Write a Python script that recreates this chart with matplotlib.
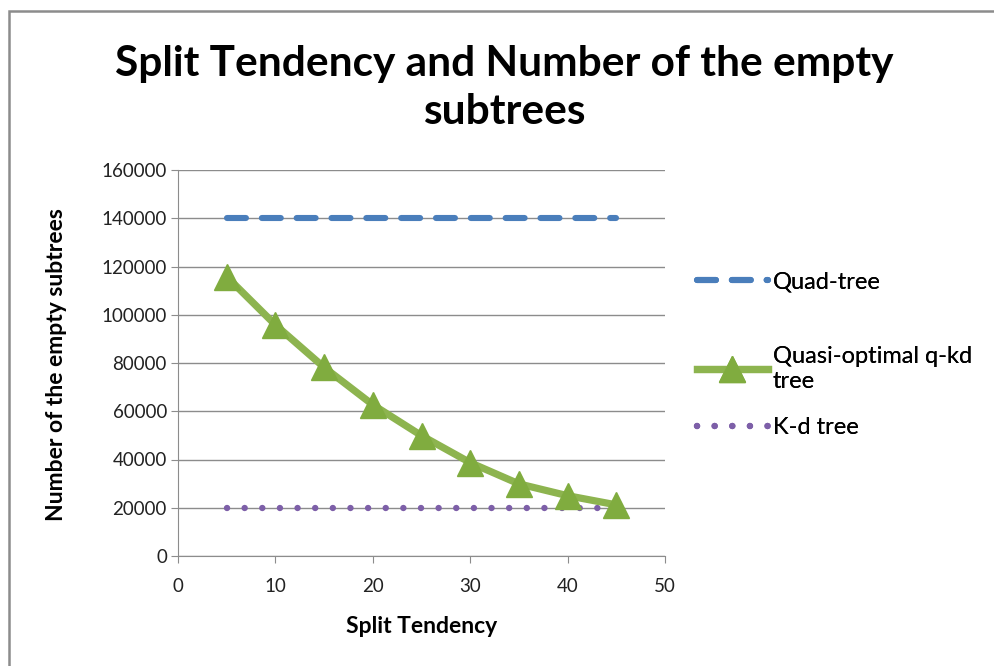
import matplotlib
matplotlib.use("Agg")
import matplotlib.pyplot as plt
from matplotlib.patches import Rectangle

plt.rcParams['font.family'] = ['Lato', 'DejaVu Sans']

split = [5, 10, 15, 20, 25, 30, 35, 40, 45]
quad = [140000] * 9
quasi = [115800, 95800, 78200, 62700, 49900, 38700, 29900, 25000, 21200]
kd = [20000] * 9
xticks = [0, 10, 20, 30, 40, 50]
yticks = [0, 20000, 40000, 60000, 80000, 100000, 120000, 140000, 160000]

fig = plt.figure(figsize=(9.94, 6.66), dpi=100)
fig.patches.append(Rectangle((9/994, -0.2), 1.2, 1.2 - 11/666, transform=fig.transFigure,
                             fill=False, edgecolor='#8c8c8c', linewidth=1.8))
ax = fig.add_axes([178/994, 1 - 556/666, (665 - 178)/994, (556 - 170)/666])

ax.plot(split, quad, color='#4a7ebb', linewidth=4.4, linestyle=(0, (3.1, 2.6)),
        dash_capstyle='round', label='Quad-tree', zorder=3)
ax.plot(split, quasi, color='#8db44f', linewidth=5.2, marker='^', markersize=19,
        markerfacecolor='#80ac3f', markeredgecolor='#80ac3f', label='Quasi-optimal q-kd\ntree',
        solid_joinstyle='round', zorder=4)
ax.plot(split, kd, color='#7d5fa8', linewidth=4.6, linestyle=(0, (0.01, 2.75)),
        dash_capstyle='round', label='K-d tree', zorder=3)

ax.set_xlim(0, 50)
ax.set_ylim(0, 160000)
ax.set_xticks(xticks)
ax.set_yticks(yticks)
ax.tick_params(axis='both', labelsize=13.5, colors='#222222', length=5, color='#8c8c8c')
ax.tick_params(axis='x', pad=11)
ax.tick_params(axis='y', pad=3)
ax.grid(axis='y', color='#8c8c8c', linewidth=1)
ax.set_axisbelow(True)
for s in ['top', 'right']:
    ax.spines[s].set_visible(False)
for s in ['left', 'bottom']:
    ax.spines[s].set_color('#8c8c8c')

ax.set_xlabel('Split Tendency', fontsize=16.5, fontweight='bold')
ax.xaxis.set_label_coords(0.5, -0.155)
ax.set_ylabel('Number of the empty subtrees', fontsize=16.5, fontweight='bold')
ax.yaxis.set_label_coords(-0.228, 0.495)

fig.text(504/994, 1 - 88/666, 'Split Tendency and Number of the empty\nsubtrees',
         ha='center', va='center', fontsize=30.5, fontweight='bold', linespacing=1.3)

handles, labels = ax.get_legend_handles_labels()
ys = [282, 369, 428]
for h, l, y in zip(handles, labels, ys):
    lg = fig.legend([h], [l], loc='center left', bbox_to_anchor=(697/994, 1 - y/666),
                    frameon=False, fontsize=17, handlelength=3.0, handletextpad=0.2,
                    borderaxespad=0, borderpad=0, labelspacing=0.2)
    fig.add_artist(lg)

fig.savefig('out.png', dpi=100)
